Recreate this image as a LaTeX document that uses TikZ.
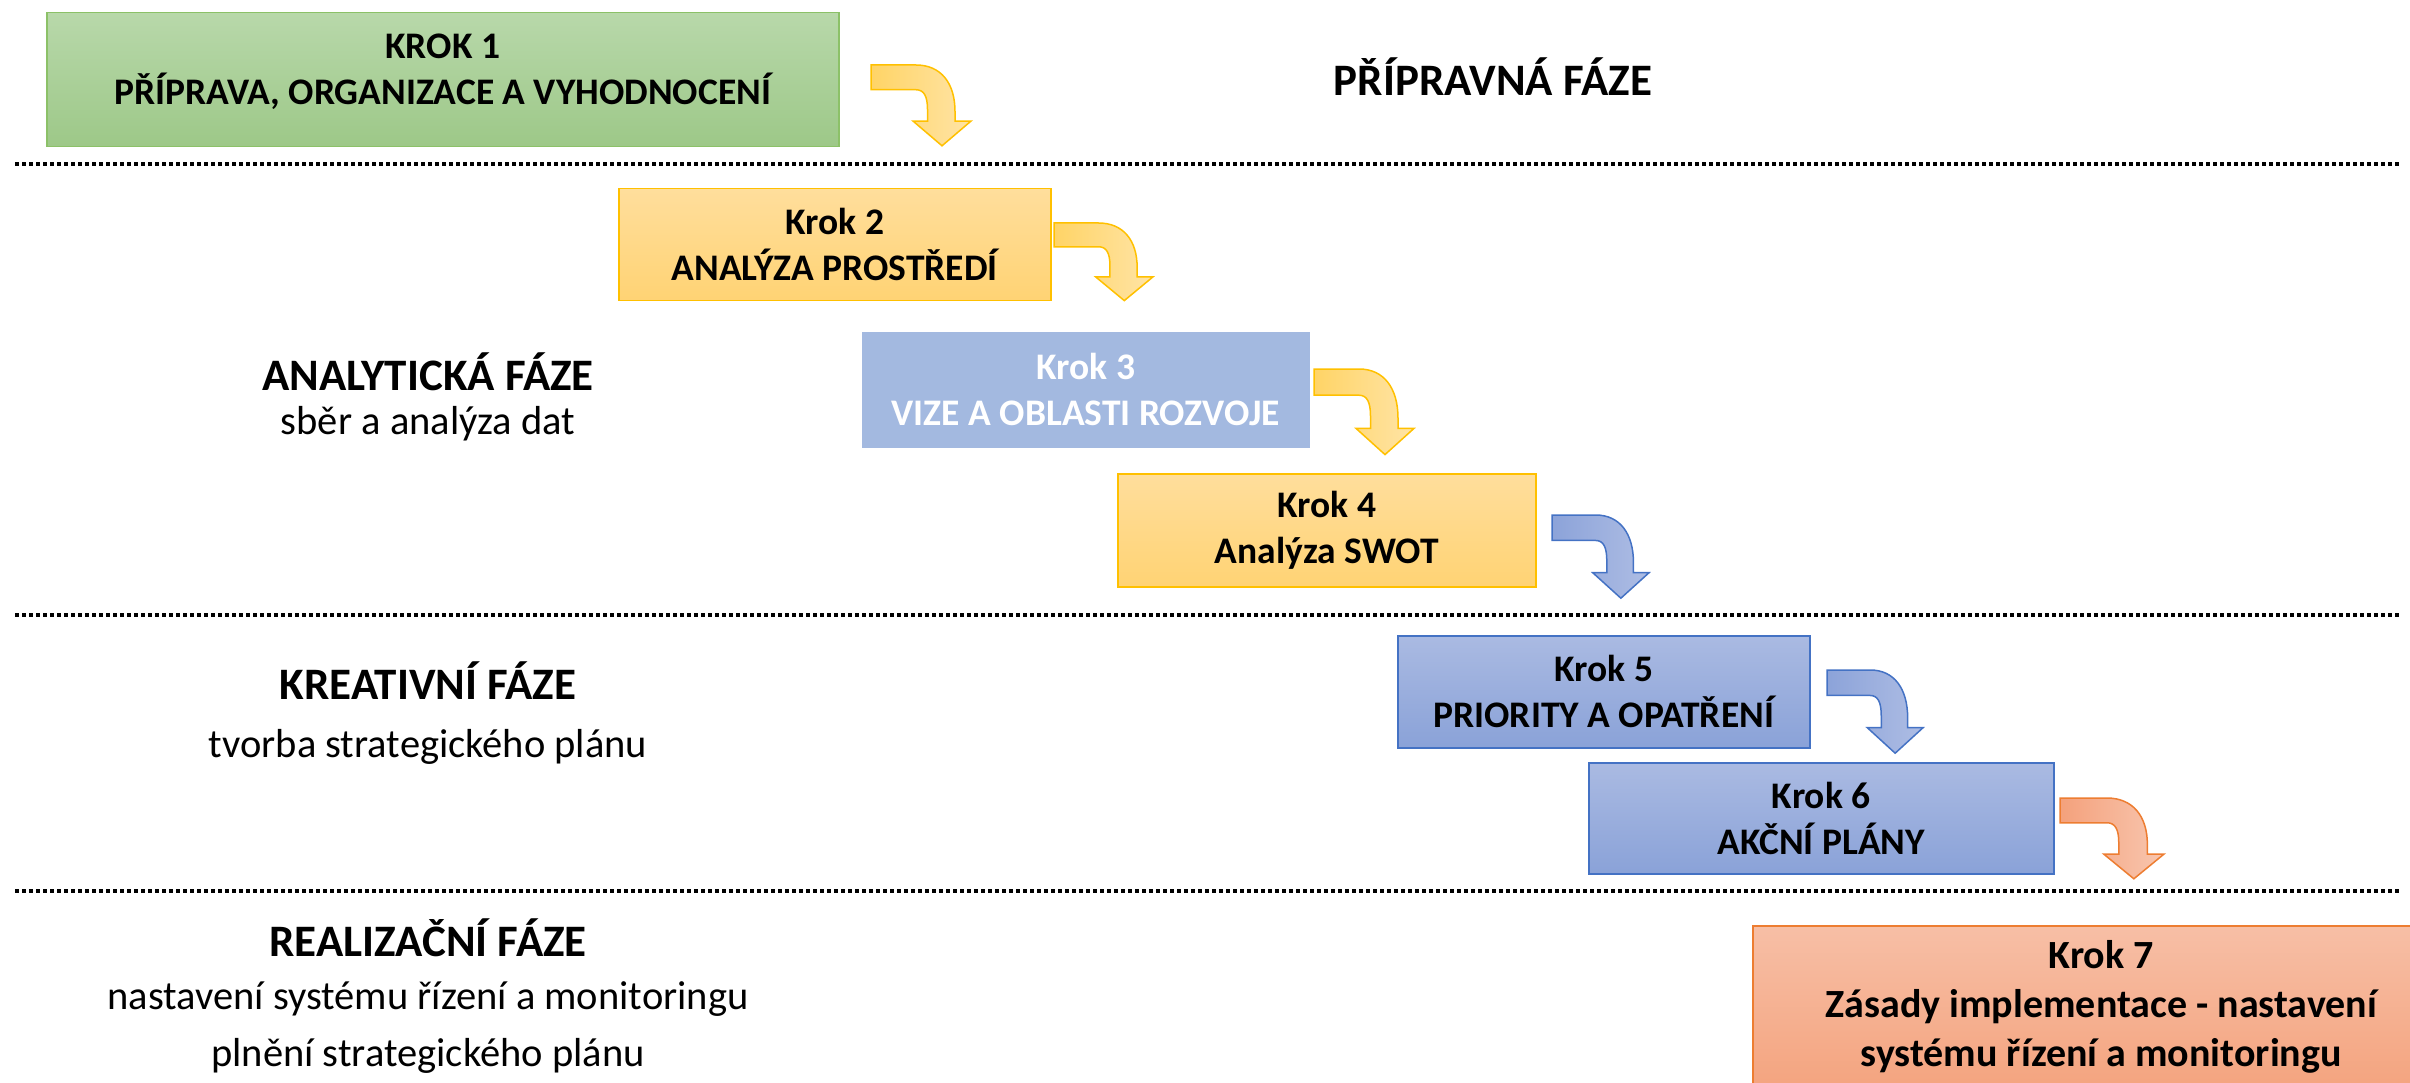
\documentclass[tikz,border=0pt]{standalone}
\usepackage{fontspec}
\setmainfont{Carlito}
\definecolor{gTop}{HTML}{B8D8AA}
\definecolor{gBot}{HTML}{9DC888}
\definecolor{gLine}{HTML}{8CC168}
\definecolor{yTop}{HTML}{FFDE9C}
\definecolor{yBot}{HTML}{FFD374}
\definecolor{yLine}{HTML}{FFC000}
\definecolor{bTop}{HTML}{AABAE2}
\definecolor{bBot}{HTML}{8AA2D8}
\definecolor{bLine}{HTML}{4472C4}
\definecolor{bFlat}{HTML}{A3B9E0}
\definecolor{oTop}{HTML}{F7BFA6}
\definecolor{oBot}{HTML}{F4A47F}
\definecolor{oLine}{HTML}{ED7D31}
\definecolor{yArrL}{HTML}{FFD466}
\definecolor{yArrR}{HTML}{FFE4A6}
\definecolor{bArrL}{HTML}{8CA3D9}
\definecolor{bArrR}{HTML}{AEBDE4}
\definecolor{oArrL}{HTML}{F4A17C}
\definecolor{oArrR}{HTML}{F8C6AF}
\newcommand\bentarr[5]{%
  \path[#3, shift={(#1,#2)}, xscale=#4, yscale=#5]
    (0,0) -- (45,0) .. controls (70,0) and (84,18) .. (84,46) -- (84,55.5)
    -- (100,55.5) -- (71,80) -- (42,55.5) -- (56.5,55.5) -- (56.5,44)
    .. controls (56.5,31) and (53,24.5) .. (45,24.5) -- (0,24.5) -- cycle;}
\begin{document}
\begin{tikzpicture}[x=1pt,y=-1pt,
  box/.style={line width=1.5pt, align=center, inner sep=0pt, anchor=north west,
    font=\bfseries\fontsize{37.5}{46}\selectfont},
  greenbox/.style={box, draw=gLine, top color=gTop, bottom color=gBot},
  goldbox/.style={box, draw=yLine, top color=yTop, bottom color=yBot},
  flatbox/.style={box, draw=bFlat, fill=bFlat, text=white},
  bluebox/.style={box, draw=bLine, top color=bTop, bottom color=bBot},
  orangebox/.style={box, draw=oLine, top color=oTop, bottom color=oBot,
    font=\bfseries\fontsize{40}{49}\selectfont},
  yarr/.style={draw=yLine, line width=1.5pt, left color=yArrL, right color=yArrR},
  barr/.style={draw=bLine, line width=1.5pt, left color=bArrL, right color=bArrR},
  oarr/.style={draw=oLine, line width=1.5pt, left color=oArrL, right color=oArrR},
  sep/.style={line width=4pt, dash pattern=on 3.5pt off 3.5pt},
  phase/.style={font=\bfseries\fontsize{45}{54}\selectfont},
  sub/.style={font=\fontsize{40.5}{48}\selectfont}
]
\useasboundingbox (0,0) rectangle (2410,1083);

% separators
\coordinate (s1a) at (15,164); \coordinate (s1b) at (2401,164);
\coordinate (s2a) at (15,615); \coordinate (s2b) at (2401,615);
\coordinate (s3a) at (15,891); \coordinate (s3b) at (2401,891);
\draw[sep] (s1a) -- (s1b);
\draw[sep] (s2a) -- (s2b);
\draw[sep] (s3a) -- (s3b);

% boxes
\node[greenbox, minimum width=792pt, minimum height=134pt] (b1) at (46,12) {};
\node[align=center, font=\bfseries\fontsize{37.5}{46}\selectfont] (b1t) at ([yshift=8pt]b1.center)
  {KROK 1\\PŘÍPRAVA, ORGANIZACE A VYHODNOCENÍ};
\node[goldbox, minimum width=432pt, minimum height=112pt] (b2) at (618,188)
  {Krok 2\\ANALÝZA PROSTŘEDÍ};
\node[flatbox, minimum width=446pt, minimum height=114pt] (b3) at (862,332)
  {Krok 3\\VIZE A OBLASTI ROZVOJE};
\node[goldbox, minimum width=418pt, minimum height=113pt] (b4) at (1117,473)
  {Krok 4\\Analýza SWOT};
\node[bluebox, minimum width=412pt, minimum height=112pt] (b5) at (1397,635)
  {Krok 5\\PRIORITY A OPATŘENÍ};
\node[bluebox, minimum width=465pt, minimum height=111pt] (b6) at (1588,762)
  {Krok 6\\AKČNÍ PLÁNY};
\node[orangebox, minimum width=697pt, minimum height=162pt] (b7) at (1752,925)
  {Krok 7\\Zásady implementace - nastavení\\systému řízení a monitoringu};

% bent arrows
\bentarr{871}{65}{yarr}{1}{1.01}
\bentarr{1054}{223}{yarr}{0.99}{0.97}
\bentarr{1314}{369}{yarr}{1}{1.07}
\bentarr{1552}{515}{barr}{0.97}{1.04}
\bentarr{1827}{670}{barr}{0.96}{1.04}
\bentarr{2060}{798}{oarr}{1.04}{1.01}

% phase labels
\node[phase] (p1) at (1493,77) {PŘÍPRAVNÁ FÁZE};
\node[phase] (p2) at (428,372) {ANALYTICKÁ FÁZE};
\node[sub] (p2s) at (428,424) {sběr a analýza dat};
\node[phase] (p3) at (428,681) {KREATIVNÍ FÁZE};
\node[sub] (p3s) at (428,747) {tvorba strategického plánu};
\node[phase] (p4) at (428,938) {REALIZAČNÍ FÁZE};
\node[sub] (p4s) at (428,999) {nastavení systému řízení a monitoringu};
\node[sub] (p4t) at (428,1056) {plnění strategického plánu};
\end{tikzpicture}
\end{document}
